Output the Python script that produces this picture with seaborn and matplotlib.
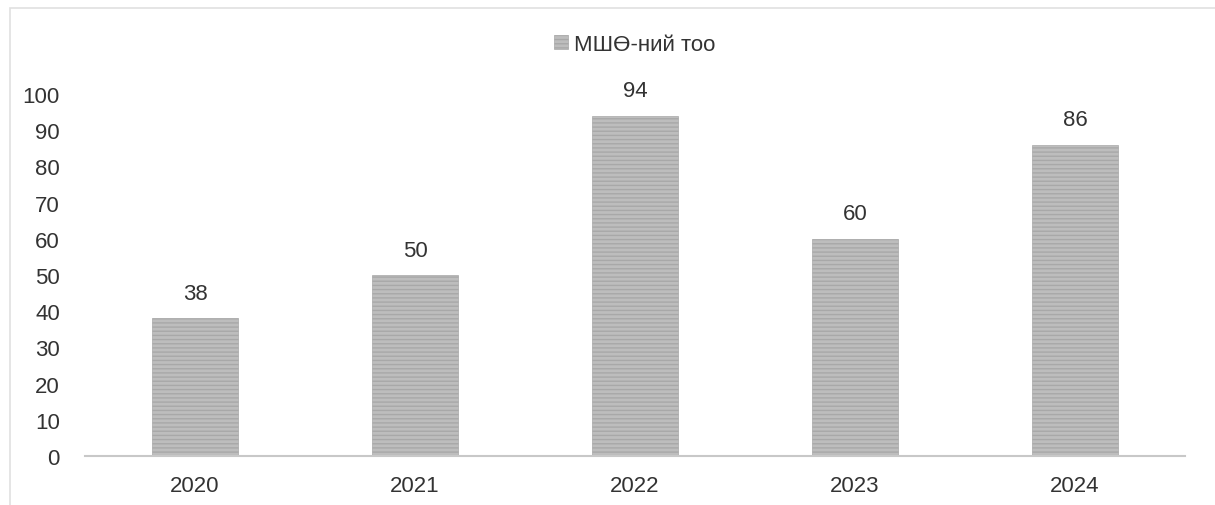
import matplotlib
matplotlib.use("Agg")
import matplotlib.pyplot as plt
import seaborn as sns
import pandas as pd
from matplotlib.patches import Rectangle

years = ["2020", "2021", "2022", "2023", "2024"]
values = [38, 50, 94, 60, 86]
series_name = "МШӨ-ний тоо"
yticks = [0, 10, 20, 30, 40, 50, 60, 70, 80, 90, 100]

sns.set_theme(style="white")
plt.rcParams['font.family'] = ['Liberation Sans', 'DejaVu Sans']
plt.rcParams['hatch.color'] = '#707070'
plt.rcParams['hatch.linewidth'] = 1.0

df = pd.DataFrame({"year": years, "value": values})

fig = plt.figure(figsize=(12.15, 5.06), dpi=100)
ax = fig.add_axes([85/1215, 1 - 457/506, 1100/1215, (457 - 95)/506])

sns.barplot(data=df, x="year", y="value", ax=ax, color="#bdbdbd",
            width=0.39, saturation=1, label=series_name)
for p in ax.patches:
    p.set_hatch("----")
    p.set_edgecolor("#a8a8a8")
    p.set_linewidth(0.5)

for p, v in zip(ax.patches, values):
    ax.text(p.get_x() + p.get_width() / 2, v + 4, str(v), ha="center", va="bottom",
            fontsize=16, color="#333333", clip_on=False)

ax.set_xlim(-0.5, 4.5)
ax.set_ylim(0, 100)
ax.set_yticks(yticks)
ax.set_yticklabels([str(t) for t in yticks])
ax.tick_params(axis="both", length=0, labelsize=16, colors="#333333")
ax.tick_params(axis="y", pad=18)
ax.tick_params(axis="x", pad=14)
ax.set_xlabel("")
ax.set_ylabel("")
for s in ["top", "right", "left"]:
    ax.spines[s].set_visible(False)
ax.spines["bottom"].set_color("#c8c8c8")
ax.spines["bottom"].set_linewidth(1.5)

leg = ax.legend(loc="center", bbox_to_anchor=(0.5, 1.138), frameon=False,
                fontsize=16, handlelength=0.6, handleheight=0.6, handletextpad=0.3)
for t in leg.get_texts():
    t.set_color("#333333")

fig.patches.append(Rectangle((10/1215, -0.01), 1.0, 1.01 - 9/506, transform=fig.transFigure,
                             fill=False, edgecolor="#e0e0e0", linewidth=1.2))

fig.savefig("out.png", dpi=100)
